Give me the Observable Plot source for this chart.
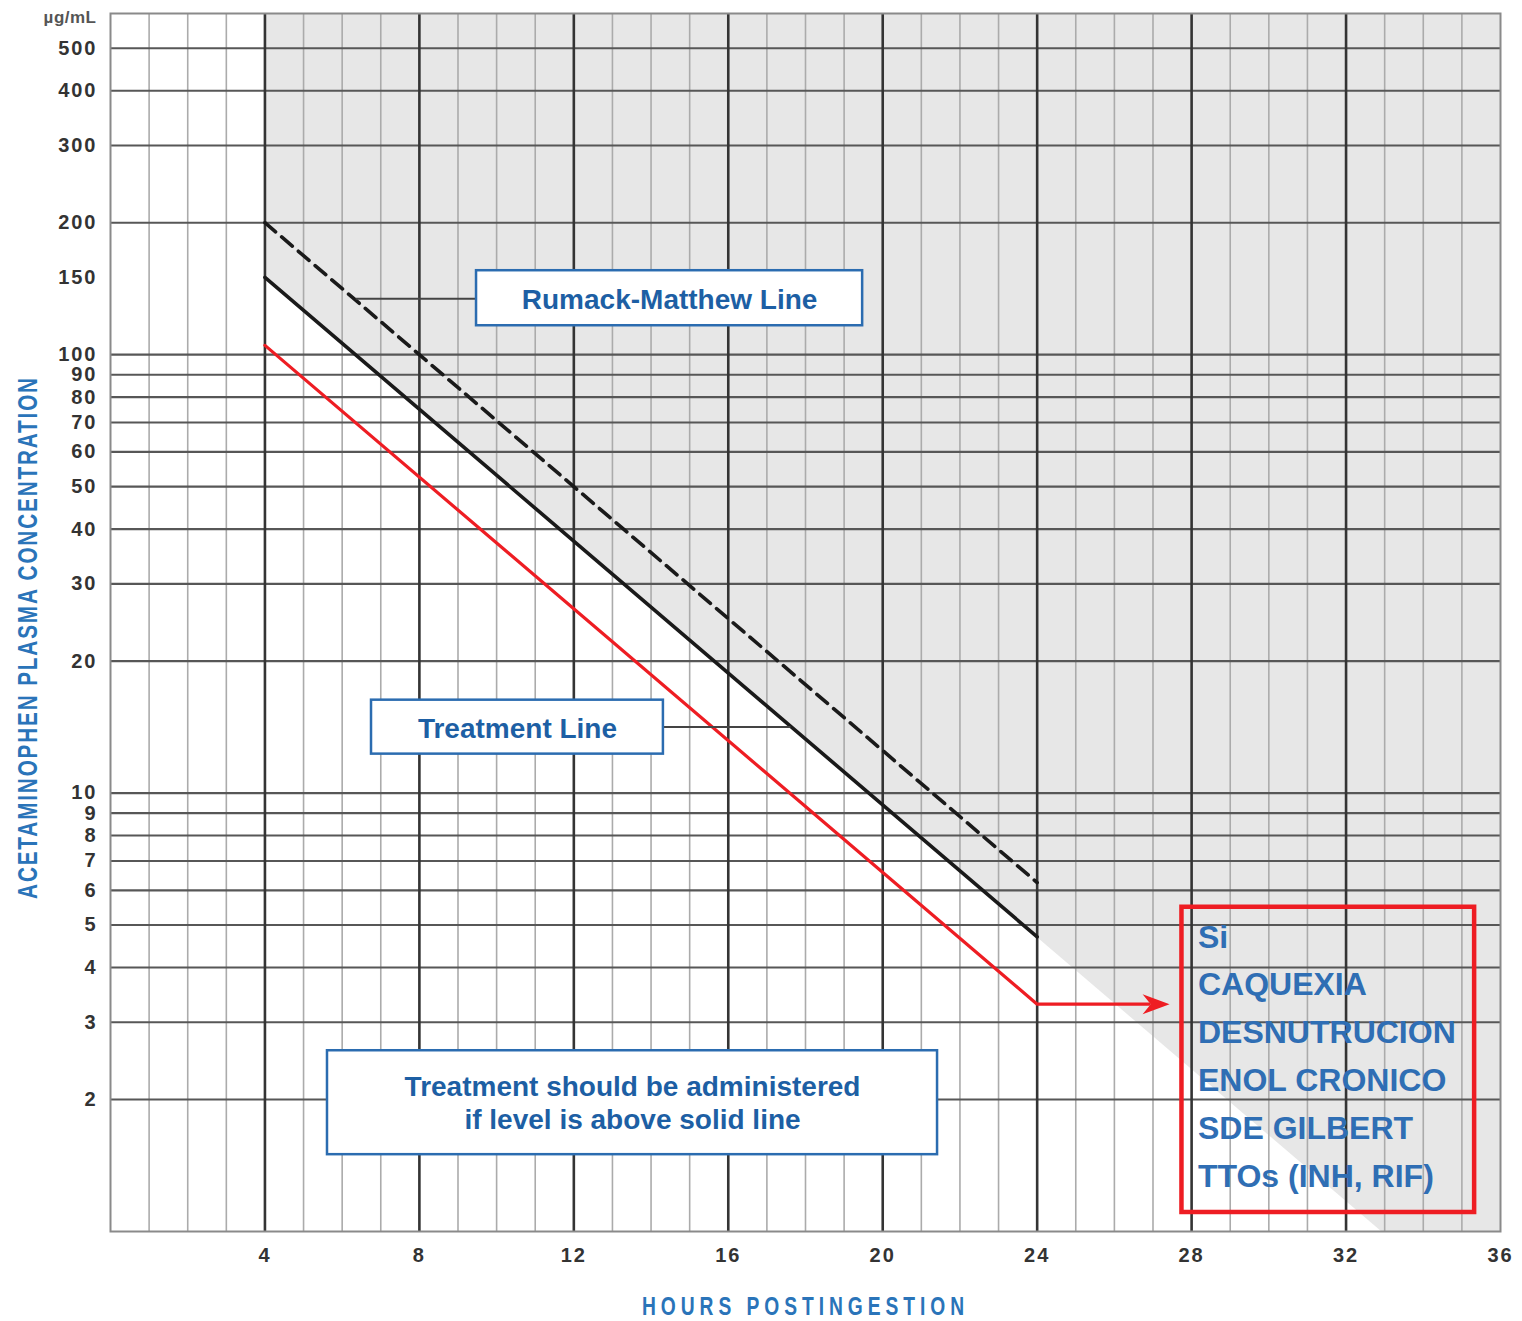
<!DOCTYPE html>
<html>
<head>
<meta charset="utf-8">
<script src="https://cdn.jsdelivr.net/npm/d3@7"></script>
<script src="https://cdn.jsdelivr.net/npm/@observablehq/plot@0.6"></script>
<style>
  html, body { margin: 0; padding: 0; background: #fff; }
  #chart svg { display: block; }
</style>
</head>
<body>
<div id="chart"></div>
<script>
// ---------- data ----------
const xTickHours = [4, 8, 12, 16, 20, 24, 28, 32, 36];
const minorHours = [1, 2, 3, 5, 6, 7, 9, 10, 11, 13, 14, 15, 17, 18, 19, 21, 22, 23, 25, 26, 27, 29, 30, 31, 33, 34, 35];
const majorHours = [4, 8, 12, 16, 20, 24, 28, 32];
const yTickLevels = [2, 3, 4, 5, 6, 7, 8, 9, 10, 20, 30, 40, 50, 60, 70, 80, 90, 100, 150, 200, 300, 400, 500];
const gridLevels = [2, 3, 4, 5, 6, 7, 8, 9, 10, 20, 30, 40, 50, 60, 70, 80, 90, 100, 200, 300, 400, 500];

const nomogramHours = [4, 24];
const rumackLevels = [200, 6.25];      // dashed Rumack-Matthew line
const treatmentLevels = [150, 4.7];    // solid treatment line
const riskHours = [4, 24, 26.9];       // red line
const riskLevels = [105, 3.3, 3.3];
const arrowTip = {hour: 27.43, level: 3.3};

const shadeHours = [4, 36];
const shadeLow = [150, 0.586];
const shadeHigh = [600, 600];

const yTitle = "ACETAMINOPHEN PLASMA CONCENTRATION";
const xTitle = "HOURS POSTINGESTION";
const unitLabel = "µg/mL";

const calloutLabels = ["Rumack-Matthew Line", "Treatment Line", "Treatment should be administered\nif level is above solid line"];
const calloutX1 = [9.48, 6.76, 5.62];
const calloutX2 = [19.48, 14.32, 21.42];
const calloutY1 = [116.4, 12.27, 1.497];
const calloutY2 = [155.4, 16.29, 2.584];
const calloutTextX = [14.48, 10.54, 13.52];
const calloutTextY = [134.2, 14.14, 1.972];
const connectorX1 = [6.35, 14.32];
const connectorX2 = [9.48, 17.61];
const connectorY = [134.2, 14.14];

const riskNoteLines = ["Si", "CAQUEXIA", "DESNUTRUCION", "ENOL CRONICO", "SDE GILBERT", "TTOs (INH, RIF)"];
const riskBoxHours = [27.75, 35.33];
const riskBoxLevels = [1.105, 5.49];

// ---------- tables ----------
const rumack = nomogramHours.map((h, i) => ({h, v: rumackLevels[i]}));
const treatment = nomogramHours.map((h, i) => ({h, v: treatmentLevels[i]}));
const risk = riskHours.map((h, i) => ({h, v: riskLevels[i]}));
const shade = shadeHours.map((h, i) => ({h, lo: shadeLow[i], hi: shadeHigh[i]}));
const callouts = calloutLabels.map((t, i) => ({t, x1: calloutX1[i], x2: calloutX2[i], y1: calloutY1[i], y2: calloutY2[i], tx: calloutTextX[i], ty: calloutTextY[i]}));
const connectors = connectorX1.map((x1, i) => ({x1, x2: connectorX2[i], y: connectorY[i]}));
const riskBox = [{
  x1: riskBoxHours[0], x2: riskBoxHours[1], y1: riskBoxLevels[0], y2: riskBoxLevels[1],
  ty: Math.sqrt(riskBoxLevels[0] * riskBoxLevels[1]), text: riskNoteLines.join("\n")
}];

const ARIAL = "'Liberation Sans', Arial, Helvetica, sans-serif";
const RED = "#ee1d23";
const BOXBLUE = "#2b6cb0";
const TEXTBLUE = "#1d5fa4";
const TITLEBLUE = "#2a74b9";

const arrowShape = {
  draw(context, l, r) {
    context.moveTo(0, -l);
    context.lineTo(r, 0);
    context.lineTo(0, -l * 0.3);
    context.lineTo(-r, 0);
    context.closePath();
  }
};

const chart = Plot.plot({
  width: 1522,
  height: 1321,
  marginLeft: 110,
  marginRight: 22,
  marginTop: 13,
  marginBottom: 90,
  style: {fontFamily: ARIAL, background: "#fff"},
  x: {domain: [0, 36]},
  y: {type: "log", domain: [1, 600], axis: null},
  marks: [
    Plot.areaY(shade, {x: "h", y1: "lo", y2: "hi", fill: "#e7e7e7", clip: true}),
    Plot.ruleX(minorHours, {stroke: "#ababab", strokeWidth: 1.6}),
    Plot.ruleY(gridLevels, {stroke: "#575757", strokeWidth: 2.1}),
    Plot.ruleX(majorHours, {stroke: "#343434", strokeWidth: 2.6}),
    Plot.frame({stroke: "#8a8a8a", strokeWidth: 2}),
    Plot.line(rumack, {x: "h", y: "v", stroke: "#1a1a1a", strokeWidth: 3.6, strokeDasharray: "14,8"}),
    Plot.line(treatment, {x: "h", y: "v", stroke: "#1a1a1a", strokeWidth: 3.6}),
    Plot.line(risk, {x: "h", y: "v", stroke: RED, strokeWidth: 3.2, strokeLinejoin: "miter"}),
    Plot.vector([arrowTip], {x: "hour", y: "level", rotate: 90, length: 27, r: 10, anchor: "end", shape: arrowShape, fill: RED, stroke: "none"}),
    Plot.link(connectors, {x1: "x1", x2: "x2", y1: "y", y2: "y", stroke: "#444", strokeWidth: 2}),
    Plot.rect(callouts, {x1: "x1", x2: "x2", y1: "y1", y2: "y2", fill: "#fff", stroke: BOXBLUE, strokeWidth: 2.5}),
    Plot.text(callouts, {x: "tx", y: "ty", text: "t", fill: TEXTBLUE, fontSize: 28, fontWeight: "bold", lineHeight: 1.18}),
    Plot.rect(riskBox, {x1: "x1", x2: "x2", y1: "y1", y2: "y2", fill: "none", stroke: RED, strokeWidth: 4.5}),
    Plot.text(riskBox, {x: "x1", y: "ty", text: "text", textAnchor: "start", dx: 16, dy: -8, lineHeight: 1.494, fontSize: 32, fontWeight: "bold", fill: "#2f6eb4"}),
    Plot.text(yTickLevels, {y: d => d, text: d => String(d), frameAnchor: "left", textAnchor: "end", dx: -13, fontSize: 20, fontWeight: "bold", fill: "#333", ariaLabel: () => "ytick"}),
    Plot.axisX({ticks: xTickHours, tickFormat: d => String(d), tickSize: 0, tickPadding: 16, label: null, fontSize: 20, fontWeight: "bold", fill: "#333"}),
    Plot.text([unitLabel], {frameAnchor: "top-left", text: d => d, dx: -14, dy: -3, textAnchor: "end", fontSize: 17, fontWeight: "bold", fill: "#555"}),
    Plot.text([xTitle], {frameAnchor: "bottom", text: d => d, textAnchor: "middle", lineAnchor: "middle", dy: 75, fontSize: 26, fontWeight: "bold", fill: TITLEBLUE}),
    Plot.text([yTitle], {frameAnchor: "left", text: d => d, textAnchor: "middle", rotate: -90, dx: -82, dy: 15, fontSize: 28, fontWeight: "bold", fill: TITLEBLUE})
  ]
});

// condensed look for the original's narrow bold lettering:
// append a horizontal squeeze to the text's own transform, keeping its x/y offsets
function condense(el, sx) {
  const t = el.getAttribute("transform") || "";
  el.setAttribute("transform", `${t} scale(${sx},1)`);
  const x = el.getAttribute("x");
  if (x != null && !isNaN(+x)) el.setAttribute("x", +x / sx);
}
const svgSel = d3.select(chart);
svgSel.selectAll("text").each(function () {
  const s = this.textContent;
  if (s === xTitle) { this.setAttribute("letter-spacing", "6.7px"); condense(this, 0.74); }
  else if (s === yTitle) { this.setAttribute("letter-spacing", "2.5px"); condense(this, 0.74); }
  else if (s === unitLabel) { this.setAttribute("letter-spacing", "0.5px"); }
});
svgSel.selectAll('text[aria-label="ytick"]').attr("letter-spacing", "2px");
svgSel.selectAll('g[aria-label="x-axis tick label"] text').attr("letter-spacing", "2px");

document.getElementById("chart").appendChild(chart);
</script>
</body>
</html>
